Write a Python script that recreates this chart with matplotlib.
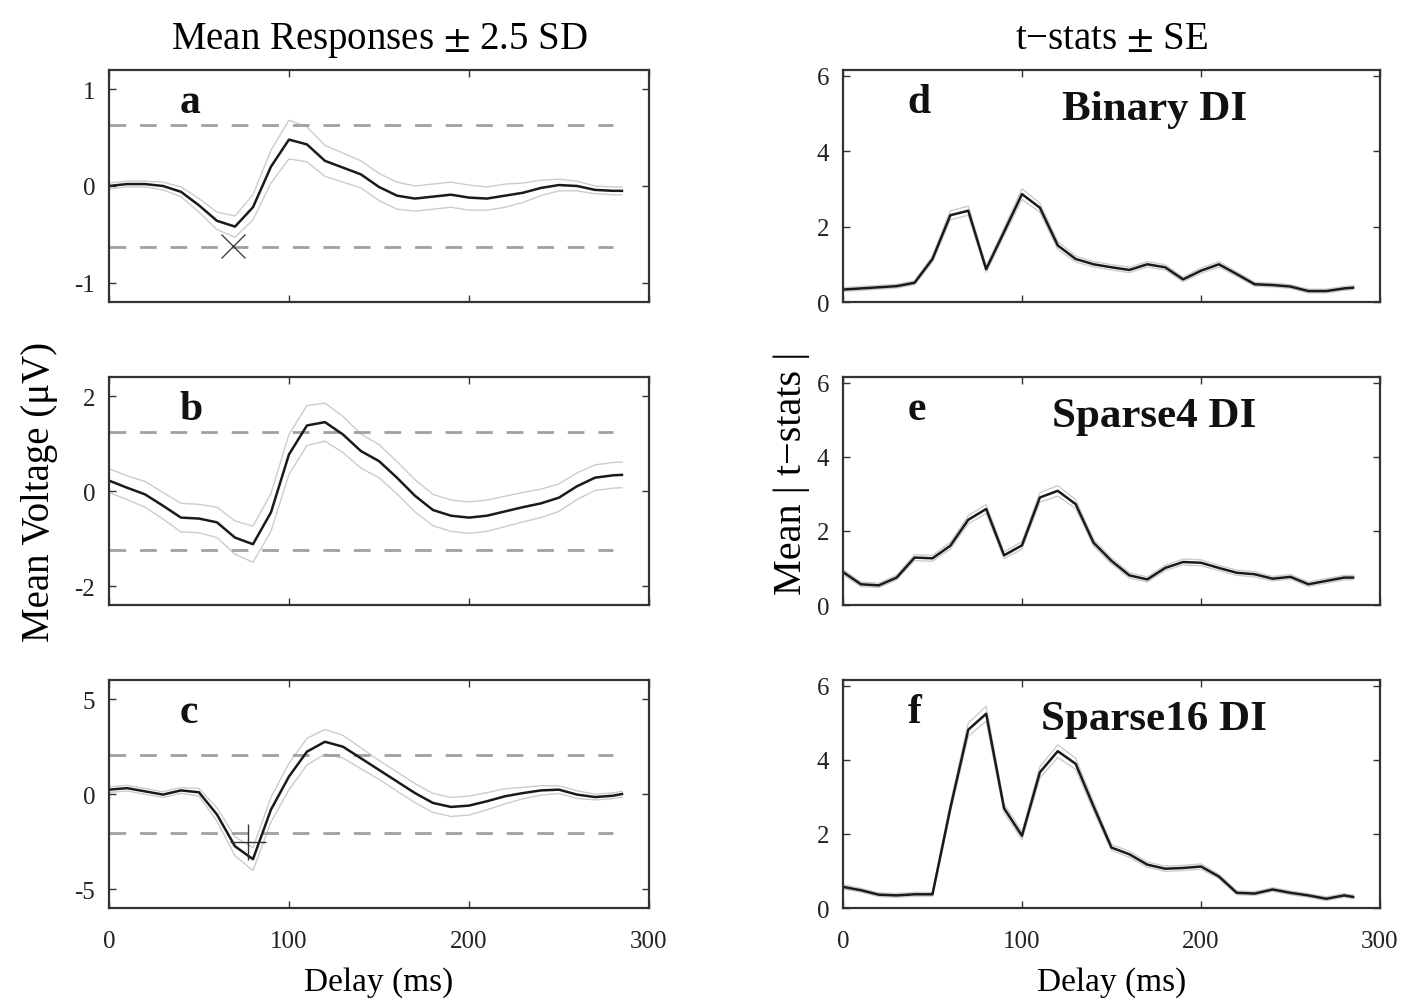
import numpy as np
import matplotlib.pyplot as plt

# delays (ms) shared by all panels
delays = [0, 10, 20, 30, 40, 50, 60, 70, 80, 90, 100, 110, 120, 130, 140, 150,
          160, 170, 180, 190, 200, 210, 220, 230, 240, 250, 260, 270, 280, 285]

# left column: mean responses (uV) and 2.5 SD band half widths
mean_a = [0.0, 0.02, 0.02, 0.0, -0.06, -0.2, -0.36, -0.42, -0.22, 0.2, 0.48, 0.43, 0.26,
          0.19, 0.12, -0.01, -0.1, -0.13, -0.11, -0.09, -0.12, -0.13, -0.1, -0.07, -0.02,
          0.01, 0.0, -0.04, -0.05, -0.05]
band_a = [0.03, 0.03, 0.03, 0.04, 0.05, 0.07, 0.09, 0.11, 0.13, 0.17, 0.2, 0.18, 0.16,
          0.15, 0.14, 0.14, 0.14, 0.13, 0.13, 0.13, 0.13, 0.12, 0.12, 0.1, 0.08, 0.06,
          0.05, 0.04, 0.04, 0.04]
thr_a = 0.63

mean_b = [0.22, 0.07, -0.07, -0.31, -0.56, -0.58, -0.66, -0.98, -1.12, -0.45, 0.77, 1.38,
          1.45, 1.19, 0.84, 0.63, 0.28, -0.1, -0.4, -0.52, -0.56, -0.52, -0.43, -0.34,
          -0.26, -0.14, 0.1, 0.28, 0.33, 0.34]
band_b = [0.25, 0.25, 0.27, 0.28, 0.3, 0.3, 0.32, 0.35, 0.38, 0.4, 0.42, 0.42, 0.4, 0.38,
          0.36, 0.35, 0.34, 0.34, 0.33, 0.33, 0.33, 0.33, 0.32, 0.31, 0.3, 0.29, 0.28,
          0.27, 0.27, 0.27]
thr_b = 1.24

mean_c = [0.23, 0.31, 0.14, -0.03, 0.19, 0.09, -1.08, -2.75, -3.43, -0.82, 0.92, 2.23,
          2.75, 2.49, 1.88, 1.27, 0.66, 0.05, -0.47, -0.68, -0.61, -0.38, -0.12, 0.05,
          0.19, 0.23, -0.03, -0.16, -0.09, 0.0]
band_c = [0.15, 0.15, 0.15, 0.15, 0.15, 0.2, 0.35, 0.5, 0.6, 0.65, 0.7, 0.7, 0.65, 0.6,
          0.55, 0.5, 0.5, 0.5, 0.5, 0.5, 0.5, 0.45, 0.4, 0.3, 0.25, 0.2, 0.2, 0.15, 0.15,
          0.15]
thr_c = 2.05

# right column: mean |t-stats| and SE
tstat_d = [0.33, 0.36, 0.39, 0.42, 0.51, 1.14, 2.3, 2.42, 0.87, 1.86, 2.86, 2.5, 1.5,
           1.14, 1.0, 0.92, 0.85, 1.0, 0.92, 0.6, 0.83, 1.0, 0.74, 0.47, 0.45, 0.41,
           0.29, 0.29, 0.36, 0.38]
tstat_e = [0.89, 0.56, 0.53, 0.74, 1.28, 1.26, 1.6, 2.3, 2.59, 1.34, 1.61, 2.9, 3.08,
           2.72, 1.68, 1.19, 0.8, 0.69, 1.0, 1.16, 1.14, 1.0, 0.87, 0.83, 0.71, 0.76,
           0.56, 0.65, 0.74, 0.74]
tstat_f = [0.57, 0.48, 0.36, 0.34, 0.37, 0.37, 2.7, 4.81, 5.24, 2.69, 1.95, 3.66, 4.23,
           3.89, 2.74, 1.63, 1.45, 1.17, 1.06, 1.08, 1.12, 0.85, 0.41, 0.39, 0.5, 0.41,
           0.34, 0.25, 0.34, 0.3]
se_d = [0.05, 0.05, 0.05, 0.05, 0.05, 0.08, 0.12, 0.12, 0.08, 0.1, 0.14, 0.12, 0.1,
        0.08, 0.07, 0.07, 0.07, 0.07, 0.07, 0.06, 0.07, 0.07, 0.06, 0.05, 0.05, 0.05,
        0.05, 0.05, 0.05, 0.05]
se_e = [0.07, 0.06, 0.06, 0.06, 0.08, 0.08, 0.09, 0.11, 0.12, 0.09, 0.1, 0.13, 0.14,
        0.12, 0.09, 0.08, 0.07, 0.07, 0.07, 0.08, 0.08, 0.07, 0.07, 0.07, 0.06, 0.06,
        0.06, 0.06, 0.06, 0.06]
se_f = [0.06, 0.05, 0.05, 0.05, 0.05, 0.05, 0.12, 0.18, 0.2, 0.12, 0.1, 0.15, 0.17,
        0.15, 0.12, 0.08, 0.08, 0.07, 0.07, 0.07, 0.07, 0.06, 0.05, 0.05, 0.05, 0.05,
        0.05, 0.05, 0.05, 0.05]

# peak markers
mark_a = (69, -0.62)
mark_c = (77, -2.5)

plt.rcParams['font.family'] = ['Liberation Serif', 'DejaVu Serif']
plt.rcParams['mathtext.fontset'] = 'stix'
plt.rcParams['axes.unicode_minus'] = False

fig = plt.figure(figsize=(14.08, 10.04), dpi=100)

left_x, left_w = 0.0774, 0.3835
right_x, right_w = 0.5987, 0.3814
rows = [(0.6982, 0.2311), (0.3964, 0.2271), (0.0946, 0.2271)]

frame_col = '#333333'
line_col = '#1a1a1a'
band_col = '#cccccc'
dash_col = '#a0a0a0'


def style_axes(ax, bottom):
    ax.set_xlim(0, 300)
    ax.set_xticks([0, 100, 200, 300])
    ax.tick_params(direction='in', top=True, right=True, length=5, width=1.0,
                   colors=frame_col, labelsize=18, labelcolor='#222222')
    ax.tick_params(axis='y', pad=10)
    ax.tick_params(axis='x', pad=16)
    if not bottom:
        ax.tick_params(labelbottom=False)
    for sp in ax.spines.values():
        sp.set_color(frame_col)
        sp.set_linewidth(1.6)


x = np.array(delays)
left_data = [(mean_a, band_a, thr_a, (-1.2, 1.2), [-1, 0, 1], 'a'),
             (mean_b, band_b, thr_b, (-2.4, 2.4), [-2, 0, 2], 'b'),
             (mean_c, band_c, thr_c, (-6, 6), [-5, 0, 5], 'c')]

for i, (m, bw, thr, ylim, yt, letter) in enumerate(left_data):
    ax = fig.add_axes([left_x, rows[i][0], left_w, rows[i][1]])
    m = np.array(m)
    bw = np.array(bw)
    ax.plot(x, m + bw, color=band_col, lw=1.0)
    ax.plot(x, m - bw, color=band_col, lw=1.0)
    ax.hlines([thr, -thr], 0, 280, colors=dash_col, linestyles=(0, (6, 5)), lw=2.0)
    ax.plot(x, m, color=line_col, lw=1.8)
    ax.set_ylim(*ylim)
    ax.set_yticks(yt)
    ax.text(0.13, 0.86, letter, transform=ax.transAxes, fontsize=30,
            fontweight='bold', ha='left', va='center', color='#111111')
    style_axes(ax, i == 2)
    if letter == 'a':
        ax.plot(*mark_a, marker='x', markersize=17, mew=1.0, color='#444444')
    if letter == 'c':
        ax.plot(*mark_c, marker='+', markersize=26, mew=1.0, color='#333333')
    if i == 0:
        ax.set_title('Mean Responses $\\pm$ 2.5 SD', fontsize=28, pad=16)
    if i == 1:
        ax.set_ylabel('Mean Voltage (\u03bcV)', fontsize=28, labelpad=12)
    if i == 2:
        ax.set_xlabel('Delay (ms)', fontsize=24, labelpad=10)

right_data = [(tstat_d, se_d, 'd', 'Binary DI'),
              (tstat_e, se_e, 'e', 'Sparse4 DI'),
              (tstat_f, se_f, 'f', 'Sparse16 DI')]

for i, (t, se, letter, name) in enumerate(right_data):
    ax = fig.add_axes([right_x, rows[i][0], right_w, rows[i][1]])
    t = np.array(t)
    se = np.array(se)
    ax.plot(x, t + se, color=band_col, lw=1.0)
    ax.plot(x, t - se, color=band_col, lw=1.0)
    ax.plot(x, t, color=line_col, lw=1.8)
    ax.set_ylim(0, 6.15)
    ax.set_yticks([0, 2, 4, 6])
    ax.text(0.12, 0.86, letter, transform=ax.transAxes, fontsize=30,
            fontweight='bold', ha='left', va='center', color='#111111')
    ax.text(0.58, 0.83, name, transform=ax.transAxes, fontsize=31,
            fontweight='bold', ha='center', va='center', color='#111111')
    style_axes(ax, i == 2)
    if i == 0:
        ax.set_title('t\u2212stats $\\pm$ SE', fontsize=28, pad=16)
    if i == 1:
        ax.set_ylabel('Mean | t\u2212stats |', fontsize=29, labelpad=2)
        ax.yaxis.set_label_coords(-0.062, 0.58)
    if i == 2:
        ax.set_xlabel('Delay (ms)', fontsize=24, labelpad=10)

fig.savefig('out.png', dpi=100, facecolor='white')
